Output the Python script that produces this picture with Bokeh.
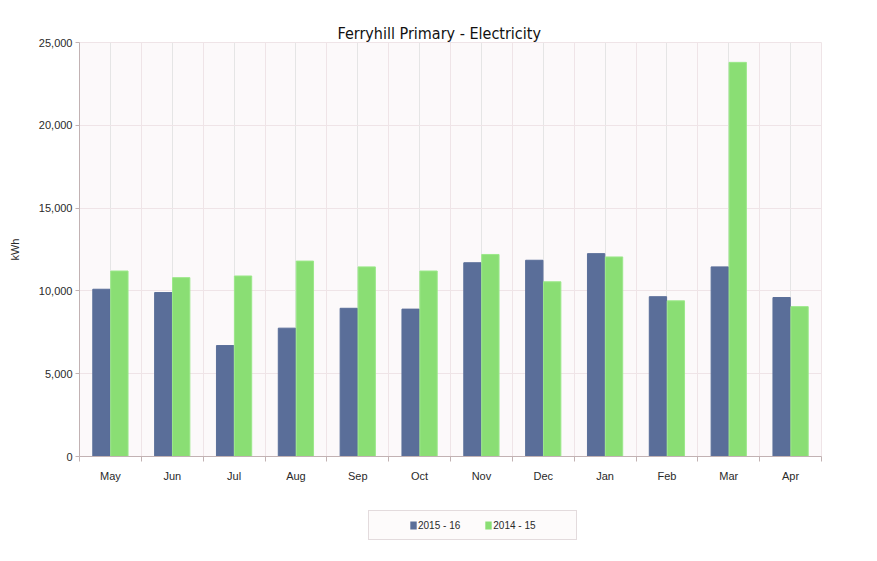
from bokeh.plotting import figure
from bokeh.layouts import column
from bokeh.models import (ColumnDataSource, Range1d, LinearAxis, CategoricalAxis,
                          FixedTicker, Grid, NumeralTickFormatter, Legend, LegendItem)
from bokeh.transform import dodge
from bokeh.embed import file_html
from bokeh.resources import INLINE

months = ["May", "Jun", "Jul", "Aug", "Sep", "Oct", "Nov", "Dec", "Jan", "Feb", "Mar", "Apr"]
kwh_2015_16 = [10100, 9900, 6700, 7750, 8950, 8900, 11700, 11850, 12250, 9650, 11450, 9600]
kwh_2014_15 = [11200, 10800, 10900, 11800, 11450, 11200, 12200, 10550, 12050, 9400, 23800, 9050]
series_names = ["2015 - 16", "2014 - 15"]
y_ticks = [0, 5000, 10000, 15000, 20000, 25000]

src = ColumnDataSource(dict(month=months, a=kwh_2015_16, b=kwh_2014_15))

FONT = "Liberation Sans"
BLUE = "#5a6e99"
GREEN = "#8ade74"
TXT = "#2a2a2a"

p = figure(frame_width=742, frame_height=414,
           x_range=months, y_range=Range1d(0, 25000),
           x_axis_location=None, output_backend="svg", toolbar_location=None,
           min_border_left=79, min_border_right=48, min_border_top=42, min_border_bottom=40)
p.background_fill_color = "#fcf9fa"
p.border_fill_color = "white"
p.outline_line_color = "#efe4e7"

p.title.text = "Ferryhill Primary  - Electricity"
p.title.text_font = "DejaVu Sans Condensed"
p.title.text_font_size = "16px"
p.title.text_font_style = "normal"
p.title.text_color = "#111111"
p.title.align = "left"
p.title.offset = 258
p.title.standoff = 0

r1 = p.vbar(x=dodge("month", -0.145, range=p.x_range), top="a", width=0.28, source=src,
            fill_color=BLUE, line_color=BLUE)
r2 = p.vbar(x=dodge("month", 0.145, range=p.x_range), top="b", width=0.28, source=src,
            fill_color=GREEN, line_color="#9be889")

# y axis
yax = p.yaxis[0]
yax.ticker = FixedTicker(ticks=y_ticks)
yax.formatter = NumeralTickFormatter(format="0,0")
yax.axis_line_color = "#c2b2b3"
yax.major_tick_line_color = "#c2b2b3"
yax.major_tick_out = 4
yax.major_tick_in = 0
yax.minor_tick_line_color = None
yax.major_label_text_font = FONT
yax.major_label_text_font_size = "11px"
yax.major_label_text_color = TXT
yax.major_label_standoff = 3
yax.axis_label = "kWh"
yax.axis_label_text_font = FONT
yax.axis_label_text_font_size = "11px"
yax.axis_label_text_font_style = "normal"
yax.axis_label_text_color = TXT
yax.axis_label_standoff = 15
p.ygrid.grid_line_color = "#efe4e7"

# x axis: tick marks at category boundaries, labels at centres
boundaries = list(range(len(months) + 1))
tick_axis = LinearAxis(ticker=FixedTicker(ticks=boundaries),
                       major_label_overrides={b: "" for b in boundaries},
                       major_label_text_font_size="1px", major_label_standoff=0,
                       axis_line_color="#c2b2b3", major_tick_line_color="#c2b2b3",
                       major_tick_out=5, major_tick_in=0, minor_tick_line_color=None)
p.add_layout(tick_axis, "below")
cat_axis = CategoricalAxis(axis_line_color=None, major_tick_line_color=None,
                           major_tick_out=0, major_tick_in=0,
                           major_label_text_font=FONT, major_label_text_font_size="11px",
                           major_label_text_color=TXT, major_label_standoff=8)
p.add_layout(cat_axis, "below")
p.add_layout(Grid(dimension=0, ticker=tick_axis.ticker, grid_line_color="#efe4e7"))

# legend strip under the chart (its bars lie far outside its own view; only the key shows)
q = figure(width=869, height=57, output_backend="svg", toolbar_location=None,
           x_axis_location=None, y_axis_location=None, min_border=0,
           x_range=months, y_range=Range1d(30000, 30001))
q.outline_line_color = None
q.background_fill_color = "white"
q.border_fill_color = "white"
q.xgrid.visible = False
q.ygrid.visible = False
k1 = q.vbar(x=dodge("month", -0.145, range=q.x_range), top="a", width=0.28, source=src,
            fill_color=BLUE, line_color=None)
k2 = q.vbar(x=dodge("month", 0.145, range=q.x_range), top="b", width=0.28, source=src,
            fill_color=GREEN, line_color=None)

# empty end items only widen the box
legend = Legend(items=[LegendItem(label="", renderers=[]),
                       LegendItem(label=series_names[0], renderers=[k1]),
                       LegendItem(label=series_names[1], renderers=[k2]),
                       LegendItem(label="", renderers=[])],
                orientation="horizontal", location=(289, 13), margin=0,
                glyph_width=8, glyph_height=10, label_standoff=1, spacing=24,
                padding=7, label_width=0, label_height=14,
                label_text_font=FONT, label_text_font_size="10px", label_text_color=TXT,
                border_line_color="#c9bcc0", border_line_width=1.5,
                background_fill_color="#fdfbfb", background_fill_alpha=1)
q.add_layout(legend, "center")

open("out.html", "w").write(file_html(column(p, q, spacing=0), INLINE))
